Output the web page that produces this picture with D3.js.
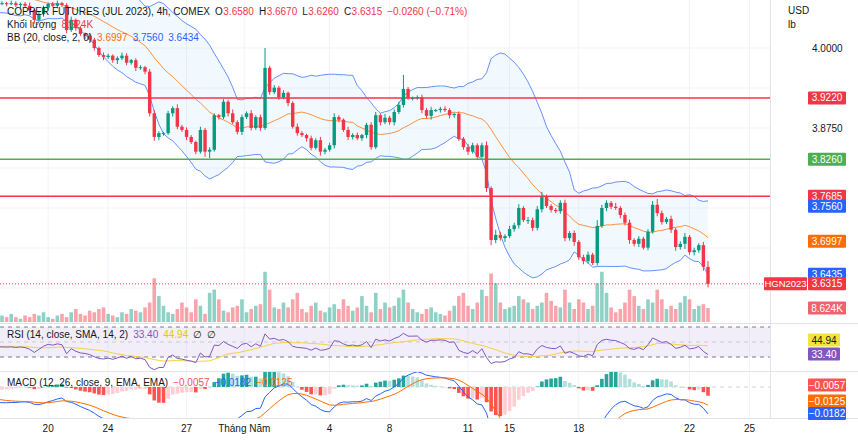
<!DOCTYPE html>
<html><head><meta charset="utf-8">
<script src="https://cdn.jsdelivr.net/npm/d3@7"></script>
<style>
body{margin:0;background:#fff;}
svg{display:block;font-family:"Liberation Sans",Arial,sans-serif;}
</style></head>
<body><div id="chart"></div>
<script>
// bars before the visible range, only used to warm up the indicators
var warmCloses = [4.12,4.11,4.13,4.12,4.10,4.11,4.09,4.10,4.12,4.11,4.13,4.12,4.10,4.09,4.11,
    4.12,4.10,4.08,4.09,4.11,4.10,4.08,4.07,4.09,4.10,4.08,4.07,4.08,4.06,4.07];

var closes = [4.070,4.069,4.070,4.067,4.069,4.066,4.059,4.044,4.053,4.063,
    4.069,4.066,4.070,4.067,4.028,4.044,4.031,4.022,4.019,4.013,
    4.000,3.989,3.986,3.988,3.981,3.984,3.988,3.977,3.981,3.969,
    3.970,3.963,3.898,3.861,3.867,3.867,3.898,3.906,3.877,3.872,
    3.861,3.853,3.838,3.872,3.838,3.841,3.895,3.892,3.916,3.898,
    3.884,3.869,3.892,3.898,3.875,3.892,3.875,3.969,3.931,3.938,
    3.923,3.930,3.914,3.877,3.867,3.864,3.859,3.844,3.856,3.838,
    3.841,3.848,3.892,3.888,3.872,3.861,3.864,3.859,3.864,3.880,
    3.845,3.895,3.884,3.891,3.884,3.900,3.911,3.936,3.922,3.922,
    3.923,3.903,3.894,3.903,3.903,3.905,3.903,3.895,3.897,3.858,
    3.845,3.838,3.848,3.830,3.848,3.781,3.700,3.708,3.703,3.706,
    3.717,3.723,3.750,3.731,3.731,3.719,3.748,3.767,3.753,3.747,
    3.745,3.758,3.703,3.711,3.697,3.673,3.667,3.677,3.664,3.722,
    3.750,3.758,3.752,3.750,3.739,3.727,3.700,3.694,3.702,3.688,
    3.713,3.755,3.742,3.728,3.733,3.716,3.689,3.694,3.705,3.681,
    3.684,3.692,3.658,3.6315];

// wick lengths above / below the body, in 0.001 USD
var wickUp = [3,2,4,3,2,3,5,2,4,3, 2,3,4,2,3,5,2,3,2,4, 3,2,4,3,2,3,5,4,2,3,
    3,2,4,5,3,2,4,3,6,3, 4,3,2,5,3,4,3,2,4,3, 6,3,4,3,5,3,4,31,3,4,
    3,4,2,3,5,3,2,4,3,5, 3,4,6,3,2,5,3,4,2,3, 4,5,3,6,3,4,5,22,3,2,
    3,4,3,5,2,3,4,3,2,4, 3,5,4,3,4,6,3,8,5,3, 5,4,6,3,5,4,5,8,4,3,
    3,4,5,3,4,3,4,5,3,9, 5,4,3,6,3,4,5,3,4,3, 4,6,9,4,3,5,3,4,6,3, 4,3,5,9];
var wickDn = [3,4,2,3,5,3,4,6,3,4, 3,2,4,3,5,3,4,3,5,3, 4,3,5,3,4,6,3,4,3,5,
    3,4,5,6,5,4,3,5,4,3, 5,3,4,3,8,10,3,4,3,5, 3,4,5,3,4,3,5,3,4,3,
    4,3,5,3,4,3,5,4,3,6, 4,3,5,4,3,5,4,3,4,5, 4,3,5,3,4,5,3,4,3,4,
    3,5,4,6,3,4,3,5,4,3, 4,5,3,4,3,6,8,5,4,6, 3,4,5,3,6,5,4,5,3,4,
    3,4,5,4,6,4,5,4,3,4, 3,5,4,3,5,4,6,4,5,3, 4,3,5,4,3,5,6,4,8,4, 5,4,6,5];

// volume, thousands of contracts
var volumes = [4,3,5,3,2,4,3,5,4,6, 3,2,4,5,3,6,8,5,4,7, 6,8,9,5,4,3,6,5,8,7,
    6,9,12,27,16,10,6,5,8,12, 9,6,14,10,5,18,20,14,7,6, 9,10,14,6,8,10,11,31,20,9,
    8,12,9,14,18,8,6,10,12,7, 6,9,11,8,14,10,7,9,16,10, 6,18,8,12,9,10,15,20,12,8,
    6,5,8,9,6,5,4,7,10,16, 18,10,8,12,20,16,30,24,12,8, 9,10,16,14,12,8,10,12,18,13,
    10,9,20,12,8,14,12,8,10,24, 31,18,9,6,8,12,20,16,10,8, 14,12,20,14,8,10,8,12,16,14,
    8,10,11,8.624];

var levels = [
    {v: 3.9220, color: "#f23645"},
    {v: 3.8260, color: "#4caf50"},
    {v: 3.7685, color: "#f23645"}
];
var priceTicks = [4.0, 3.9375, 3.875, 3.8125, 3.75, 3.6875, 3.625];
var dateTicks = [{i: 10, t: "20"}, {i: 23, t: "24"}, {i: 40, t: "27"}, {i: 52.5, t: "Tháng Năm"},
    {i: 71, t: "4"}, {i: 84, t: "8"}, {i: 101, t: "11"}, {i: 110, t: "15"},
    {i: 125, t: "18"}, {i: 149, t: "22"}, {i: 162, t: "25"}];
var bbLast = [3.6997, 3.7560, 3.6434];
var rsiLast = [33.40, 44.94];
var macdLast = [-0.0057, -0.0182, -0.0125];

var W = 858, H = 448, plotR = 770;
var RED = "#f23645", GREEN = "#089981";

var svg = d3.select("#chart").append("svg").attr("width", W).attr("height", H);
svg.append("rect").attr("width", W).attr("height", H).attr("fill", "#fff");

var n = closes.length, nw = warmCloses.length;
var all = warmCloses.concat(closes);
var x = d3.scaleLinear().domain([0, n - 1]).range([2, 708]);
var y = d3.scaleLinear().domain([3.6, 4.0]).range([304, 48]);
var yVol = d3.scaleLinear().domain([0, 10]).range([322, 305.8]);
var yRsi = d3.scaleLinear().domain([30, 70]).range([357, 327]);
var yMacd = d3.scaleLinear().domain([0, -0.0182]).range([387, 413]);

/*
 * indicators
 */
function sma(arr, p, i){ return d3.mean(arr.slice(i - p + 1, i + 1)); }
function ema(arr, p){
    var k = 2 / (p + 1), out = [arr[0]];
    for (var i = 1; i < arr.length; i++) out.push(arr[i] * k + out[i - 1] * (1 - k));
    return out;
}
var bb = [];
for (var i = 19; i < all.length; i++) {
    var m = sma(all, 20, i), sd = d3.deviation(all.slice(i - 19, i + 1)) * Math.sqrt(19 / 20);
    bb.push({i: i - nw, m: m, u: m + 2 * sd, l: m - 2 * sd});
}
var rsi = [], ag = 0, al = 0;
for (var i = 1; i < all.length; i++) {
    var ch = all[i] - all[i - 1], g = Math.max(ch, 0), l = Math.max(-ch, 0);
    if (i <= 14) { ag += g / 14; al += l / 14; }
    else { ag = (ag * 13 + g) / 14; al = (al * 13 + l) / 14; }
    rsi[i] = al === 0 ? 100 : 100 - 100 / (1 + ag / al);
}
var rsiPts = [];
for (var i = 28; i < all.length; i++) {
    rsiPts.push({i: i - nw, r: rsi[i], s: sma(rsi, 14, i)});
}
var e12 = ema(all, 12), e26 = ema(all, 26);
var macd = all.map(function(d, i){ return e12[i] - e26[i]; });
var sig = ema(macd, 9);
var macdPts = macd.map(function(d, i){ return {i: i - nw, m: d, s: sig[i], h: d - sig[i]}; });

/*
 * grid
 */
var grid = svg.append("g").attr("stroke", "#f0f3fa");
dateTicks.forEach(function(d){
    grid.append("line").attr("x1", x(d.i)).attr("x2", x(d.i)).attr("y1", 0).attr("y2", 418);
});
priceTicks.forEach(function(p){
    grid.append("line").attr("x1", 0).attr("x2", plotR).attr("y1", y(p)).attr("y2", y(p));
});

var defs = svg.append("defs");
defs.append("clipPath").attr("id", "cMain").append("rect").attr("width", plotR).attr("height", 322);
defs.append("clipPath").attr("id", "cMacd").append("rect").attr("y", 372).attr("width", plotR).attr("height", 46);

var main = svg.append("g").attr("clip-path", "url(#cMain)");

// volume
main.selectAll(".vol").data(volumes).enter().append("rect")
    .attr("x", function(d, i){ return x(i) - 1.8; })
    .attr("width", 3.6)
    .attr("y", function(d){ return yVol(d); })
    .attr("height", function(d){ return 322 - yVol(d); })
    .attr("fill", function(d, i){
        var o = i ? closes[i - 1] : warmCloses[nw - 1];
        return closes[i] >= o ? "rgba(8,153,129,0.45)" : "rgba(242,54,69,0.45)";
    });

// bollinger
var bbVis = bb.filter(function(d){ return d.i >= -1; });
main.append("path").datum(bbVis)
    .attr("fill", "rgba(33,150,243,0.06)")
    .attr("d", d3.area().x(function(d){ return x(d.i); })
        .y0(function(d){ return y(d.l); }).y1(function(d){ return y(d.u); }));
[["u", "#2962ff"], ["l", "#2962ff"], ["m", "#ff6d00"]].forEach(function(s){
    main.append("path").datum(bbVis).attr("fill", "none")
        .attr("stroke", s[1]).attr("stroke-opacity", s[0] === "m" ? 0.75 : 0.7).attr("stroke-width", 1)
        .attr("d", d3.line().x(function(d){ return x(d.i); }).y(function(d){ return y(d[s[0]]); }));
});

// levels
levels.forEach(function(l){
    main.append("line").attr("x1", 0).attr("x2", plotR).attr("y1", y(l.v)).attr("y2", y(l.v))
        .attr("stroke", l.color).attr("stroke-width", 1.5);
});

// candles
var bars = closes.map(function(c, i){
    var o = i ? closes[i - 1] : warmCloses[nw - 1];
    if (i === n - 1) o = 3.658;
    return {i: i, o: o, c: c, h: Math.max(o, c) + wickUp[i] / 1000, l: Math.min(o, c) - wickDn[i] / 1000};
});
bars[n - 1].h = 3.667; bars[n - 1].l = 3.626;
var cg = main.selectAll(".candle").data(bars).enter().append("g");
cg.append("line")
    .attr("x1", function(d){ return x(d.i); }).attr("x2", function(d){ return x(d.i); })
    .attr("y1", function(d){ return y(d.h); }).attr("y2", function(d){ return y(d.l); })
    .attr("stroke", function(d){ return d.c >= d.o ? GREEN : RED; });
cg.append("rect")
    .attr("x", function(d){ return x(d.i) - 1.7; }).attr("width", 3.4)
    .attr("y", function(d){ return y(Math.max(d.o, d.c)); })
    .attr("height", function(d){ return Math.max(1, Math.abs(y(d.o) - y(d.c))); })
    .attr("fill", function(d){ return d.c >= d.o ? GREEN : RED; });

// last price line
svg.append("line").attr("x1", 0).attr("x2", 765).attr("y1", y(3.6315)).attr("y2", y(3.6315))
    .attr("stroke", RED).attr("stroke-dasharray", "1,2");

/*
 * RSI pane
 */
svg.append("line").attr("x1", 0).attr("x2", W).attr("y1", 323.5).attr("y2", 323.5).attr("stroke", "#e0e3eb");
svg.append("rect").attr("x", 0).attr("width", plotR).attr("y", yRsi(70)).attr("height", yRsi(30) - yRsi(70))
    .attr("fill", "rgba(126,87,194,0.1)");
[70, 50, 30].forEach(function(v){
    svg.append("line").attr("x1", 0).attr("x2", plotR).attr("y1", yRsi(v)).attr("y2", yRsi(v))
        .attr("stroke", v === 50 ? "#c9c9d4" : "#787b86").attr("stroke-dasharray", "4,4");
});
svg.append("path").datum(rsiPts).attr("fill", "none").attr("stroke", "#f5d23c")
    .attr("d", d3.line().x(function(d){ return x(d.i); }).y(function(d){ return yRsi(d.s); }));
svg.append("path").datum(rsiPts).attr("fill", "none").attr("stroke", "#7e57c2")
    .attr("d", d3.line().x(function(d){ return x(d.i); }).y(function(d){ return yRsi(d.r); }));

/*
 * MACD pane
 */
svg.append("line").attr("x1", 0).attr("x2", W).attr("y1", 371.5).attr("y2", 371.5).attr("stroke", "#e0e3eb");
var mg = svg.append("g").attr("clip-path", "url(#cMacd)");
mg.append("line").attr("x1", 0).attr("x2", plotR).attr("y1", yMacd(0)).attr("y2", yMacd(0))
    .attr("stroke", "#d1d4dc").attr("stroke-dasharray", "4,4");
var mv = macdPts.filter(function(d){ return d.i >= -1; });
mg.selectAll(".hist").data(mv).enter().append("rect")
    .attr("x", function(d){ return x(d.i) - 1.8; }).attr("width", 3.6)
    .attr("y", function(d){ return Math.min(yMacd(d.h), yMacd(0)); })
    .attr("height", function(d){ return Math.abs(yMacd(d.h) - yMacd(0)); })
    .attr("fill", function(d){
        var prev = macdPts[d.i + nw - 1].h;
        if (d.h >= 0) return d.h >= prev ? "#26a69a" : "#b2dfdb";
        return d.h <= prev ? "#ff5252" : "#ffcdd2";
    });
mg.append("path").datum(mv).attr("fill", "none").attr("stroke", "#2962ff")
    .attr("d", d3.line().x(function(d){ return x(d.i); }).y(function(d){ return yMacd(d.m); }));
mg.append("path").datum(mv).attr("fill", "none").attr("stroke", "#ff6d00")
    .attr("d", d3.line().x(function(d){ return x(d.i); }).y(function(d){ return yMacd(d.s); }));

/*
 * axes & labels
 */
svg.append("line").attr("x1", plotR + 0.5).attr("x2", plotR + 0.5).attr("y1", 0).attr("y2", 418).attr("stroke", "#e0e3eb");
svg.append("line").attr("x1", 0).attr("x2", W).attr("y1", 418.5).attr("y2", 418.5).attr("stroke", "#e0e3eb");

function fmt(v){ return (v < 0 ? "\u2212" + (-v).toFixed(4) : v.toFixed(4)); }
var tags = [];
levels.forEach(function(l){ tags.push([808, y(l.v), 38, l.v.toFixed(4), l.color]); });
tags.push([808, y(bbLast[1]) + 2, 38, bbLast[1].toFixed(4), "#2962ff"]);
tags.push([808, y(bbLast[0]) + 1, 38, bbLast[0].toFixed(4), "#ff6d00"]);
tags.push([808, y(bbLast[2]) - 2, 38, "3.6435", "#2962ff"]);
tags.push([808, y(3.6315), 38, "3.6315", RED]);
tags.push([764, y(3.6315), 43, "HGN2023", RED]);
tags.push([808, 308, 38, "8.624K", "#f0626d"]);
tags.push([808, 340, 32, rsiLast[1].toFixed(2), "#f5e33c", "#131722"]);
tags.push([808, 354, 32, rsiLast[0].toFixed(2), "#7e57c2"]);
tags.push([808, 385, 38, fmt(macdLast[0]), "#ff5252"]);
tags.push([808, 401, 38, fmt(macdLast[2]), "#ff6d00"]);
tags.push([808, 413.5, 38, fmt(macdLast[1]), "#2962ff"]);

var axisText = svg.append("g").attr("font-size", 10).attr("fill", "#131722");
axisText.append("text").attr("x", 788).attr("y", 14).text("USD");
axisText.append("text").attr("x", 788).attr("y", 28).text("lb");
priceTicks.forEach(function(p){
    var hidden = tags.some(function(t){ return t[0] === 808 && Math.abs(t[1] - y(p)) < 11; });
    if (!hidden) axisText.append("text").attr("x", 812).attr("y", y(p) + 3.5).text(p.toFixed(4));
});
dateTicks.forEach(function(d){
    axisText.append("text").attr("x", x(d.i)).attr("y", 432).attr("text-anchor", "middle").text(d.t);
});

tags.forEach(function(t){
    svg.append("rect").attr("x", t[0]).attr("y", t[1] - 6.5).attr("width", t[2]).attr("height", 13)
        .attr("fill", t[4]).attr("rx", 1);
    svg.append("text").attr("x", t[0] + t[2] / 2).attr("y", t[1] + 3.5).attr("text-anchor", "middle")
        .attr("font-size", t[3] === "HGN2023" ? 9.5 : 10).attr("fill", t[5] || "#fff").text(t[3]);
});

// legends: [text, colour, wanted x]; a piece is pushed right if the previous one runs into it
var ohlc = ["O", "H", "L", "C"];
function legend(yy, parts){
    var end = 0;
    parts.forEach(function(p, k){
        var gap = (k && ohlc.indexOf(parts[k - 1][0]) >= 0) ? 0.5 : 5;
        var t = svg.append("text").attr("x", Math.max(p[2], end + gap)).attr("y", yy)
            .attr("font-size", 10).attr("fill", p[1]).text(p[0]);
        end = +t.attr("x") + t.node().getComputedTextLength();
    });
}
var G = "#131722", R = "#f23645";
legend(15, [["COPPER FUTURES (JUL 2023), 4h, COMEX", G, 7], ["O", G, 172], ["3.6580", R, 180],
    ["H", G, 210], ["3.6670", R, 218], ["L", G, 247], ["3.6260", R, 254], ["C", G, 282], ["3.6315", R, 290],
    ["\u22120.0260 (\u22120.71%)", R, 320]]);
legend(28, [["Khối lượng", G, 7], ["8.624K", R, 54]]);
legend(41, [["BB (20, close, 2, 0)", G, 7], [bbLast[0].toFixed(4), "#ff6d00", 86],
    [bbLast[1].toFixed(4), "#2962ff", 118], [bbLast[2].toFixed(4), "#2962ff", 150]]);
legend(338, [["RSI (14, close, SMA, 14, 2)", G, 7], [rsiLast[0].toFixed(2), "#7e57c2", 114],
    [rsiLast[1].toFixed(2), "#e6c800", 143], ["\u2205", G, 170], ["\u2205", G, 183]]);
legend(386, [["MACD (12, 26, close, 9, EMA, EMA)", G, 7], [fmt(macdLast[0]), "#ff5252", 147],
    [fmt(macdLast[1]), "#2962ff", 188], [fmt(macdLast[2]), "#ff6d00", 224]]);
</script>
</body></html>
